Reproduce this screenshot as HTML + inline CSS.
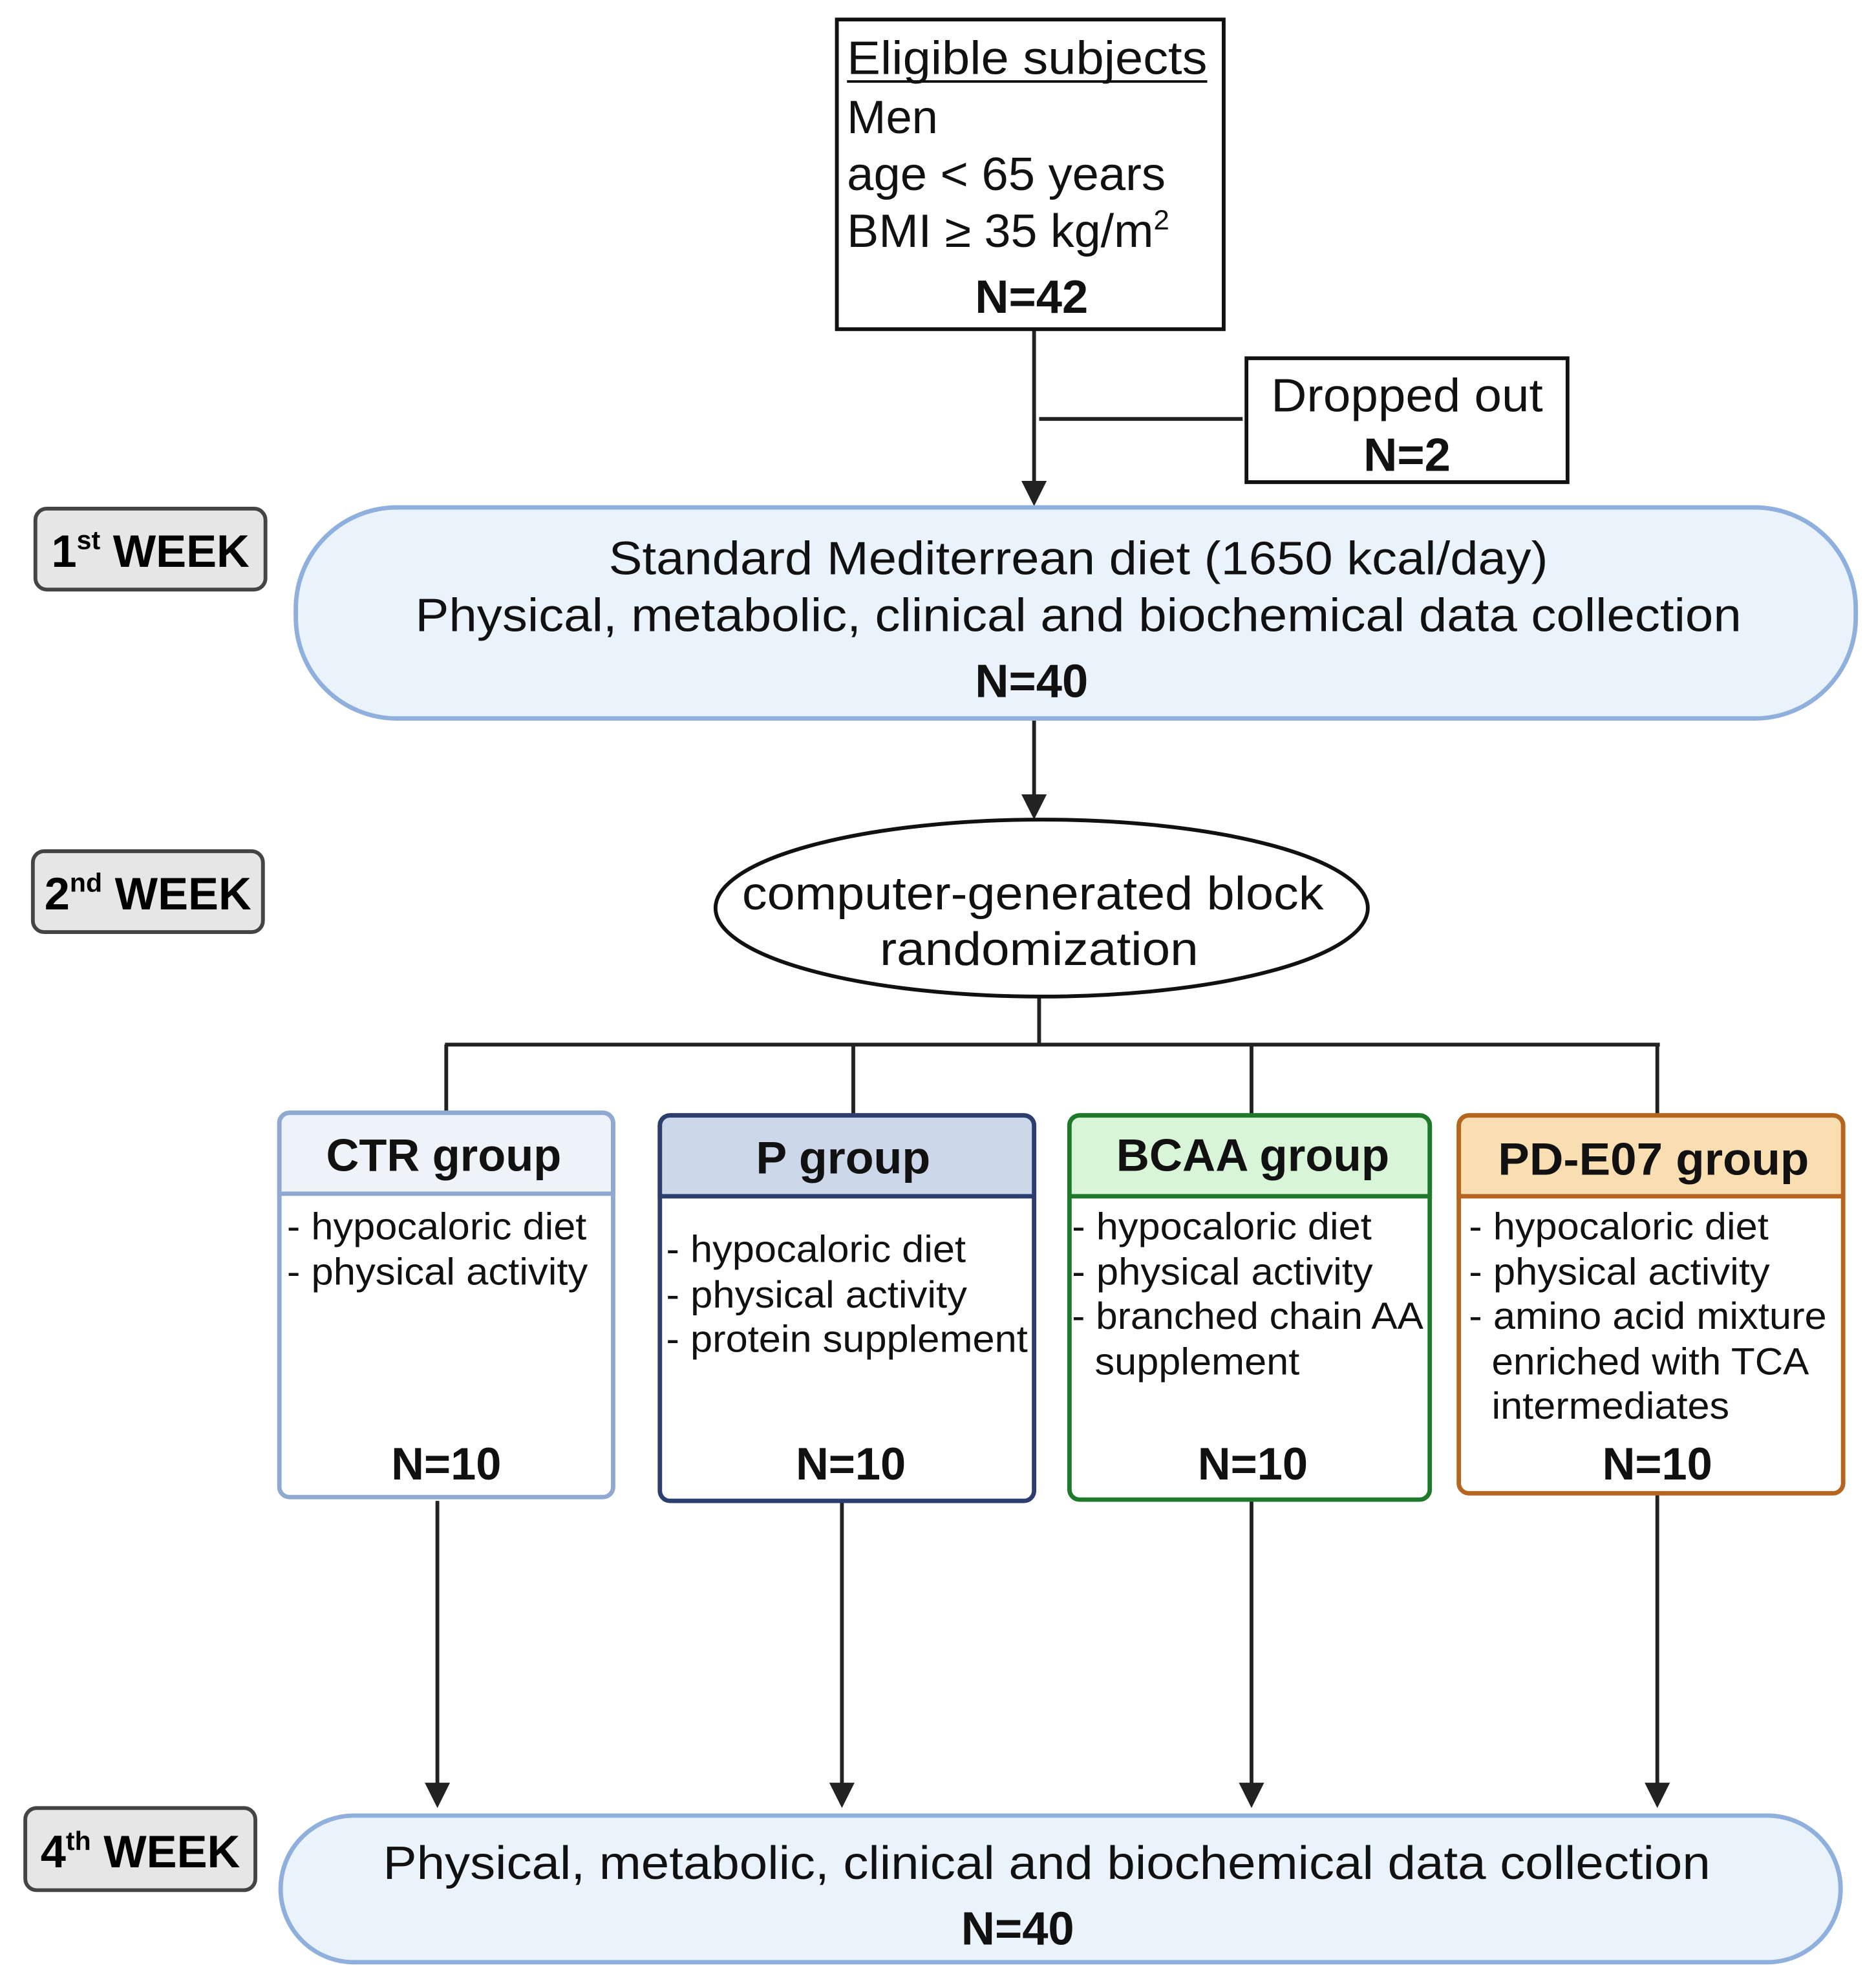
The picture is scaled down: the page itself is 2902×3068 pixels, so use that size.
<!DOCTYPE html>
<html><head><meta charset="utf-8"><style>html,body{margin:0;padding:0;background:#fff}svg{display:block}</style></head>
<body>
<svg width="2902" height="3068" viewBox="0 0 1484 1568" xmlns="http://www.w3.org/2000/svg" font-family="'Liberation Sans', sans-serif">
<defs>
<marker id="ah" viewBox="0 0 10 10" refX="10" refY="5" markerWidth="6" markerHeight="6" markerUnits="userSpaceOnUse" orient="auto"><path d="M0,0 L10,5 L0,10 z" fill="#222"/></marker>
</defs>
<g fill="none" stroke="#222" stroke-width="3">
<line x1="818" y1="260" x2="818" y2="382"/>
<path d="M808,380 L818,400 L828,380 z" fill="#222" stroke="none"/>
<line x1="822" y1="331" x2="983" y2="331"/>
<line x1="818" y1="568" x2="818" y2="628"/>
<line x1="822" y1="788" x2="822" y2="826"/>
<line x1="352" y1="826" x2="1313" y2="826"/>
<line x1="353" y1="826" x2="353" y2="880"/>
<line x1="675" y1="826" x2="675" y2="882"/>
<line x1="990" y1="826" x2="990" y2="882"/>
<line x1="1311" y1="826" x2="1311" y2="882"/>
<line x1="346" y1="1187" x2="346" y2="1412"/>
<line x1="666" y1="1188" x2="666" y2="1412"/>
<line x1="990" y1="1187" x2="990" y2="1412"/>
<line x1="1311" y1="1182" x2="1311" y2="1412"/>
</g>
<g fill="#222">
<path d="M808,628 L818,648 L828,628 z"/>
<path d="M336,1410 L346,1430 L356,1410 z"/>
<path d="M656,1410 L666,1430 L676,1410 z"/>
<path d="M980,1410 L990,1430 L1000,1410 z"/>
<path d="M1301,1410 L1311,1430 L1321,1410 z"/>
</g>
<!-- eligible -->
<rect x="662" y="15" width="306" height="245" fill="#fff" stroke="#111" stroke-width="3"/>
<g font-size="37" fill="#111">
<text x="670" y="58" textLength="285" lengthAdjust="spacingAndGlyphs">Eligible subjects</text>
<line x1="670" y1="64" x2="955" y2="64" stroke="#111" stroke-width="2"/>
<text x="670" y="105">Men</text>
<text x="670" y="150" textLength="252" lengthAdjust="spacingAndGlyphs">age &lt; 65 years</text>
<text x="670" y="195" textLength="255" lengthAdjust="spacingAndGlyphs">BMI ≥ 35 kg/m<tspan font-size="22" dy="-14">2</tspan></text>
<text x="816" y="247" text-anchor="middle" font-weight="bold">N=42</text>
</g>
<!-- dropped -->
<rect x="986" y="283" width="254" height="98" fill="#fff" stroke="#111" stroke-width="3"/>
<text x="1113" y="325" text-anchor="middle" font-size="37" fill="#111" textLength="215" lengthAdjust="spacingAndGlyphs">Dropped out</text>
<text x="1113" y="372" text-anchor="middle" font-size="37" font-weight="bold" fill="#111">N=2</text>
<!-- week labels -->
<g stroke="#444" stroke-width="3" fill="#e6e6e6">
<rect x="28" y="402" width="182" height="64" rx="9"/>
<rect x="26" y="673" width="182" height="64" rx="9"/>
<rect x="20" y="1430" width="182" height="65" rx="9"/>
</g>
<g font-size="36" font-weight="bold" fill="#000" text-anchor="middle">
<text x="119" y="448">1<tspan font-size="21" dy="-14">st</tspan><tspan dy="14"> WEEK</tspan></text>
<text x="117" y="719">2<tspan font-size="21" dy="-14">nd</tspan><tspan dy="14"> WEEK</tspan></text>
<text x="111" y="1477">4<tspan font-size="21" dy="-14">th</tspan><tspan dy="14"> WEEK</tspan></text>
</g>
<!-- week1 box -->
<rect x="234" y="401" width="1234" height="167" rx="80" fill="#eaf2fb" stroke="#8fb0dc" stroke-width="3.5"/>
<g font-size="37" fill="#111" text-anchor="middle">
<text x="853" y="454" textLength="743" lengthAdjust="spacingAndGlyphs">Standard Mediterrean diet (1650 kcal/day)</text>
<text x="853" y="499" textLength="1049" lengthAdjust="spacingAndGlyphs">Physical, metabolic, clinical and biochemical data collection</text>
<text x="816" y="551" font-weight="bold">N=40</text>
</g>
<!-- ellipse -->
<ellipse cx="824" cy="718" rx="258" ry="70" fill="#fff" stroke="#111" stroke-width="3"/>
<g font-size="37" fill="#111" text-anchor="middle">
<text x="817" y="719" textLength="460" lengthAdjust="spacingAndGlyphs">computer-generated block</text>
<text x="822" y="763" textLength="252" lengthAdjust="spacingAndGlyphs">randomization</text>
</g>
<!-- groups -->
<g stroke-width="3.5">
<rect x="221" y="880" width="264" height="304" rx="8" fill="#fff" stroke="#8fa9d0"/>
<path d="M221,944 V888 a8,8 0 0 1 8,-8 H477 a8,8 0 0 1 8,8 V944 z" fill="#eef3fa" stroke="#8fa9d0"/>
<rect x="522" y="882" width="296" height="305" rx="8" fill="#fff" stroke="#2c3e6e"/>
<path d="M522,946 V890 a8,8 0 0 1 8,-8 H810 a8,8 0 0 1 8,8 V946 z" fill="#cdd7ea" stroke="#2c3e6e"/>
<rect x="846" y="882" width="285" height="304" rx="8" fill="#fff" stroke="#1e7a2a"/>
<path d="M846,946 V890 a8,8 0 0 1 8,-8 H1123 a8,8 0 0 1 8,8 V946 z" fill="#d8f5d8" stroke="#1e7a2a"/>
<rect x="1154" y="882" width="304" height="299" rx="8" fill="#fff" stroke="#b5651d"/>
<path d="M1154,946 V890 a8,8 0 0 1 8,-8 H1450 a8,8 0 0 1 8,8 V946 z" fill="#f8deb0" stroke="#b5651d"/>
</g>
<g font-size="36" font-weight="bold" fill="#111" text-anchor="middle">
<text x="351" y="926" textLength="186" lengthAdjust="spacingAndGlyphs">CTR group</text>
<text x="667" y="928" textLength="138" lengthAdjust="spacingAndGlyphs">P group</text>
<text x="991" y="926" textLength="216" lengthAdjust="spacingAndGlyphs">BCAA group</text>
<text x="1308" y="929" textLength="246" lengthAdjust="spacingAndGlyphs">PD-E07 group</text>
<text x="353" y="1170">N=10</text>
<text x="673" y="1170">N=10</text>
<text x="991" y="1170">N=10</text>
<text x="1311" y="1170">N=10</text>
</g>
<g font-size="30" fill="#111">
<text x="227" y="980" textLength="237" lengthAdjust="spacingAndGlyphs">- hypocaloric diet</text>
<text x="227" y="1016" textLength="238" lengthAdjust="spacingAndGlyphs">- physical activity</text>
<text x="527" y="998" textLength="237" lengthAdjust="spacingAndGlyphs">- hypocaloric diet</text>
<text x="527" y="1034" textLength="238" lengthAdjust="spacingAndGlyphs">- physical activity</text>
<text x="527" y="1069" textLength="286" lengthAdjust="spacingAndGlyphs">- protein supplement</text>
<text x="848" y="980" textLength="237" lengthAdjust="spacingAndGlyphs">- hypocaloric diet</text>
<text x="848" y="1016" textLength="238" lengthAdjust="spacingAndGlyphs">- physical activity</text>
<text x="848" y="1051" textLength="278" lengthAdjust="spacingAndGlyphs">- branched chain AA</text>
<text x="866" y="1087" textLength="162" lengthAdjust="spacingAndGlyphs">supplement</text>
<text x="1162" y="980" textLength="237" lengthAdjust="spacingAndGlyphs">- hypocaloric diet</text>
<text x="1162" y="1016" textLength="238" lengthAdjust="spacingAndGlyphs">- physical activity</text>
<text x="1162" y="1051" textLength="283" lengthAdjust="spacingAndGlyphs">- amino acid mixture</text>
<text x="1180" y="1087" textLength="251" lengthAdjust="spacingAndGlyphs">enriched with TCA</text>
<text x="1180" y="1122" textLength="188" lengthAdjust="spacingAndGlyphs">intermediates</text>
</g>
<!-- bottom box -->
<rect x="222" y="1436" width="1234" height="116" rx="58" fill="#eaf2fb" stroke="#8fb0dc" stroke-width="3.5"/>
<g font-size="37" fill="#111" text-anchor="middle">
<text x="828" y="1486" textLength="1050" lengthAdjust="spacingAndGlyphs">Physical, metabolic, clinical and biochemical data collection</text>
<text x="805" y="1538" font-weight="bold">N=40</text>
</g>
</svg>
</body></html>
